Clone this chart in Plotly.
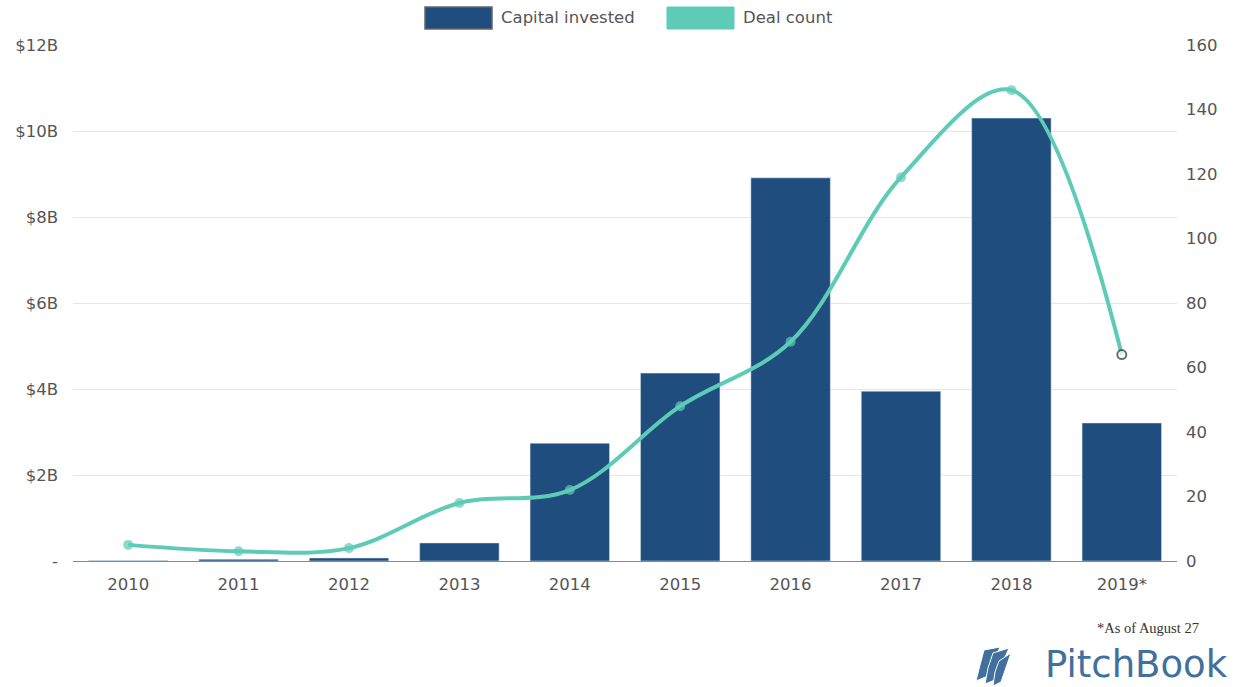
import plotly.graph_objects as go

years = ["2010", "2011", "2012", "2013", "2014", "2015", "2016", "2017", "2018", "2019*"]
capital_b = [0.01, 0.04, 0.07, 0.42, 2.74, 4.37, 8.91, 3.95, 10.3, 3.21]
deal_count = [5, 3, 4, 18, 22, 48, 68, 119, 146, 64]
left_ticks = [0, 2, 4, 6, 8, 10, 12]
left_labels = ["-", "$2B", "$4B", "$6B", "$8B", "$10B", "$12B"]
right_ticks = [0, 20, 40, 60, 80, 100, 120, 140, 160]

BAR = "#1f4e7e"
TEAL = "#5ecbb6"
TXT = "#555555"
FONT = "DejaVu Sans"
LOGO = "#41709f"

fig = go.Figure()
fig.add_trace(go.Bar(x=years, y=capital_b, marker_color=BAR, width=0.72,
                     name="Capital invested", showlegend=False, yaxis="y"))
fig.add_trace(go.Scatter(x=years, y=deal_count, mode="lines+markers",
                         line=dict(color=TEAL, width=4, shape="spline", smoothing=1.0),
                         marker=dict(size=[10]*9 + [9],
                                     color=[TEAL]*9 + ["white"],
                                     line=dict(color=[TEAL]*9 + ["#333333"], width=[0]*9 + [2])),
                         name="Deal count", showlegend=False, yaxis="y2"))

fig.update_layout(
    width=1233, height=687,
    margin=dict(l=73, r=56, t=45, b=126),
    plot_bgcolor="white", paper_bgcolor="white",
    font=dict(family=FONT, color=TXT, size=16),
    xaxis=dict(range=[-0.5, 9.5], showgrid=False, showline=True, linecolor="#888888", linewidth=1,
               ticks="", tickfont=dict(size=16.5, color=TXT), ticklabelstandoff=8,
               automargin=False),
    yaxis=dict(range=[0, 12], tickvals=left_ticks, ticktext=left_labels,
               showgrid=True, gridcolor="#e6e6e6", gridwidth=1, zeroline=False,
               tickfont=dict(size=16.5, color=TXT), ticklabelstandoff=14, automargin=False),
    yaxis2=dict(range=[0, 160], tickvals=right_ticks, overlaying="y", side="right",
                showgrid=False, zeroline=False, tickfont=dict(size=16.5, color=TXT),
                ticklabelstandoff=8, automargin=False),
    showlegend=False,
)

def px_x(px):
    return (px - 73) / 1104

def px_y(py):
    return (561 - py) / 516

# manual legend
fig.add_shape(type="rect", xref="paper", yref="paper",
              x0=px_x(425), x1=px_x(492), y0=px_y(29), y1=px_y(7),
              fillcolor=BAR, line=dict(color="#666666", width=1.5))
fig.add_shape(type="rect", xref="paper", yref="paper",
              x0=px_x(667), x1=px_x(734), y0=px_y(29), y1=px_y(7),
              fillcolor=TEAL, line=dict(color=TEAL, width=1))
fig.add_annotation(xref="paper", yref="paper", x=px_x(499), y=px_y(18), text="Capital invested",
                   showarrow=False, xanchor="left", yanchor="middle", font=dict(size=16.5, color=TXT))
fig.add_annotation(xref="paper", yref="paper", x=px_x(741), y=px_y(18), text="Deal count",
                   showarrow=False, xanchor="left", yanchor="middle", font=dict(size=16.5, color=TXT))

# footnote
fig.add_annotation(xref="paper", yref="paper", x=px_x(1201), y=px_y(628), text="*As of August 27",
                   showarrow=False, xanchor="right", yanchor="middle",
                   font=dict(family="Liberation Serif", size=14.5, color="#333333"))

# logo text
fig.add_annotation(xref="paper", yref="paper", x=px_x(1230), y=px_y(664), text="PitchBook",
                   showarrow=False, xanchor="right", yanchor="middle",
                   font=dict(family="DejaVu Sans", size=37, color=LOGO))

# logo icon: slanted leaf strokes
def path(points):
    return "M " + " L ".join(f"{px_x(x):.5f},{px_y(y):.5f}" for x, y in points) + " Z"

leaves = [
    [(984, 650), (1000, 647), (988, 676), (976, 681), (980, 665)],
    [(993, 653), (1009, 648), (995, 680), (985, 684), (988, 668)],
    [(999, 661), (1011, 653), (1001, 682), (993, 686), (995, 672)],
]
for lf in leaves:
    fig.add_shape(type="path", xref="paper", yref="paper", path=path(lf),
                  fillcolor=LOGO, line=dict(color="white", width=1))

fig.write_html("out.html", config={"displayModeBar": False},
               post_script="document.body.style.margin='0';document.body.style.overflow='hidden';")
